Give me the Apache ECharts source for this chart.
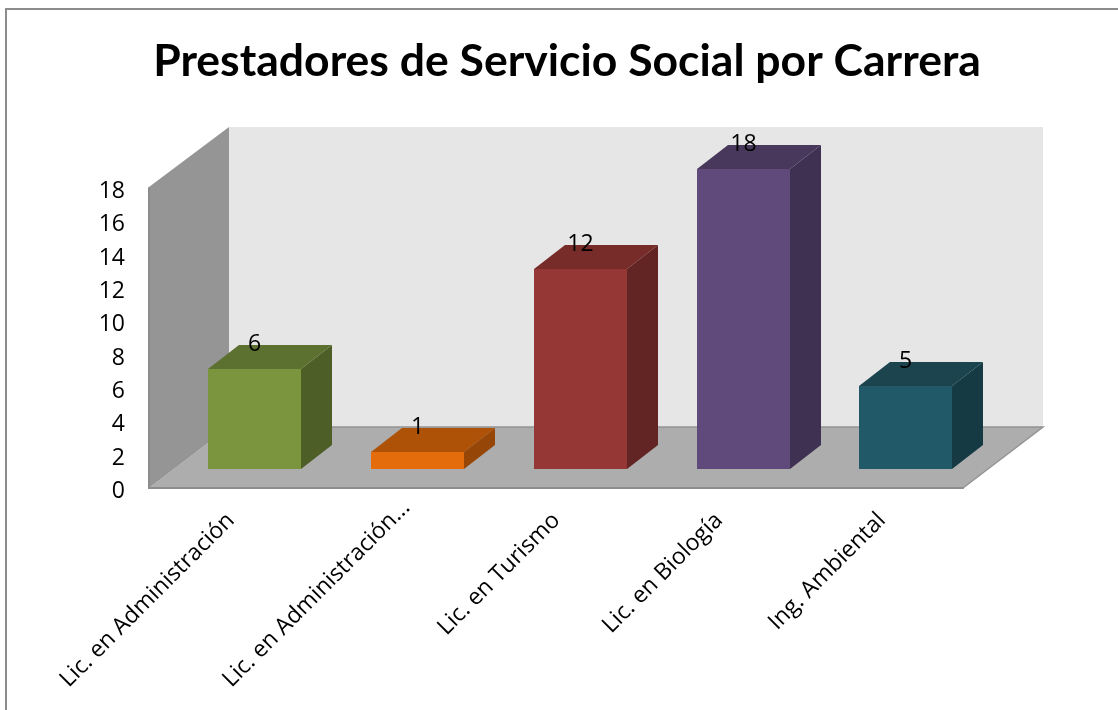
<!DOCTYPE html>
<html>
<head>
<meta charset="utf-8">
<title>Prestadores de Servicio Social por Carrera</title>
<script src="https://cdn.jsdelivr.net/npm/echarts@6/dist/echarts.min.js"></script>
<style>
    html, body { margin: 0; padding: 0; background: #fff; }
    #chart { width: 1118px; height: 710px; }
</style>
</head>
<body>
<div id="chart"></div>
<script>
    var categories = ['Lic. en Administración', 'Lic. en Administración...', 'Lic. en Turismo', 'Lic. en Biología', 'Ing. Ambiental'];
    var values = [6, 1, 12, 18, 5];
    var yTicks = ['0', '2', '4', '6', '8', '10', '12', '14', '16', '18'];

    var frontColors = ['#7a953d', '#e46c0a', '#953735', '#604a7b', '#215968'];
    var topColors = ['#5c7030', '#ad5207', '#772c2a', '#48395c', '#1b444f'];
    var sideColors = ['#4d5e27', '#964708', '#632523', '#3f3151', '#153a44'];

    var titleFont = 'Lato, sans-serif';
    var labelFont = '"Open Sans", sans-serif';

    // how far the back wall sits from the front of the floor
    var wallDx = 80, wallDy = 61;
    // the bars stand part way in and have their own depth
    var barInY = 19, barDx = 31, barDy = 24;

    var myChart = echarts.init(document.getElementById('chart'));

    function renderWalls(params) {
        var c = params.coordSys;
        var l = c.x, r = c.x + c.width, t = c.y - 1, b = c.y + c.height;
        return {
            type: 'group',
            children: [
                {
                    type: 'polygon',
                    shape: { points: [[l + wallDx, t - wallDy + 1], [r + wallDx, t - wallDy + 1], [r + wallDx, b - wallDy], [l + wallDx, b - wallDy]] },
                    style: { fill: '#e6e6e6' }
                },
                {
                    type: 'polygon',
                    shape: { points: [[l, b], [l + wallDx, b - wallDy], [r + wallDx, b - wallDy], [r, b]] },
                    style: { fill: '#adadad' }
                },
                {
                    type: 'polygon',
                    shape: { points: [[l, t], [l + wallDx, t - wallDy + 1], [l + wallDx, b - wallDy], [l, b]] },
                    style: { fill: '#959595' }
                },
                {
                    type: 'polyline',
                    shape: { points: [[l + wallDx, b - wallDy], [r + wallDx, b - wallDy], [r, b]] },
                    style: { fill: 'none', stroke: '#949494', lineWidth: 1.5 }
                }
            ]
        };
    }

    function renderBar(params, api) {
        var i = api.value(0);
        var p0 = api.coord([i, 0]);
        var p1 = api.coord([i, api.value(1)]);
        var w = Math.round(api.size([1, 0])[0] * 0.573);
        var left = Math.round(p0[0] - w / 2 + 24.3);
        var right = left + w;
        var bottom = Math.round(p0[1] - barInY);
        var top = Math.round(p1[1] - barInY);
        return {
            type: 'group',
            children: [
                {
                    type: 'polygon',
                    shape: { points: [[right, top], [right + barDx, top - barDy], [right + barDx, bottom - barDy], [right, bottom]] },
                    style: { fill: sideColors[i] }
                },
                {
                    type: 'polygon',
                    shape: { points: [[left, top], [left + barDx, top - barDy], [right + barDx, top - barDy], [right, top]] },
                    style: { fill: topColors[i] }
                },
                {
                    type: 'rect',
                    shape: { x: left, y: top, width: w, height: bottom - top },
                    style: { fill: frontColors[i] }
                },
                {
                    type: 'text',
                    x: left + w / 2,
                    y: top - 25,
                    style: {
                        text: String(api.value(1)),
                        font: '23px ' + labelFont,
                        fill: '#000',
                        align: 'center',
                        verticalAlign: 'middle'
                    }
                }
            ]
        };
    }

    var option = {
        backgroundColor: '#fff',
        animation: false,
        title: {
            text: 'Prestadores de Servicio Social por Carrera',
            left: 562,
            top: 34,
            textAlign: 'center',
            textStyle: { fontFamily: titleFont, fontSize: 44.5, fontWeight: 'bold', color: '#000' }
        },
        graphic: [
            {
                type: 'rect',
                shape: { x: 6, y: 9, width: 1130, height: 730 },
                style: { fill: 'none', stroke: '#8c8c8c', lineWidth: 2 },
                silent: true
            }
        ],
        grid: { left: 149, right: 155, top: 188, bottom: 222 },
        xAxis: {
            type: 'category',
            data: categories,
            z: 10,
            axisLine: { show: true, lineStyle: { color: '#8c8c8c', width: 2 } },
            axisTick: { show: false },
            axisLabel: {
                rotate: 45,
                interval: 0,
                margin: 3,
                verticalAlign: 'top',
                fontFamily: labelFont,
                fontSize: 23,
                color: '#000',
                // the long label runs past the others, so it gets no right padding
                formatter: function (name) {
                    return (name.indexOf('...') > 0 ? '{long|' : '{std|') + name + '}';
                },
                rich: {
                    std: { padding: [7, 18, 0, 0] },
                    long: { padding: [7, 0, 0, 0] }
                }
            }
        },
        yAxis: {
            type: 'value',
            min: 0,
            max: 18,
            interval: 2,
            z: 10,
            axisLine: { show: true, lineStyle: { color: '#8c8c8c', width: 2 } },
            axisTick: { show: false },
            splitLine: { show: false },
            axisLabel: {
                margin: 24,
                verticalAlign: 'top',
                lineHeight: 7,
                fontFamily: labelFont,
                fontSize: 23,
                color: '#000',
                formatter: function (v) { return yTicks[v / 2]; }
            }
        },
        series: [
            {
                type: 'custom',
                silent: true,
                clip: false,
                z: 1,
                renderItem: renderWalls,
                data: [[0, 0]]
            },
            {
                type: 'custom',
                clip: false,
                z: 2,
                renderItem: renderBar,
                encode: { x: 0, y: 1 },
                data: values.map(function (v, i) { return [i, v]; })
            }
        ]
    };

    myChart.setOption(option);
</script>
</body>
</html>
